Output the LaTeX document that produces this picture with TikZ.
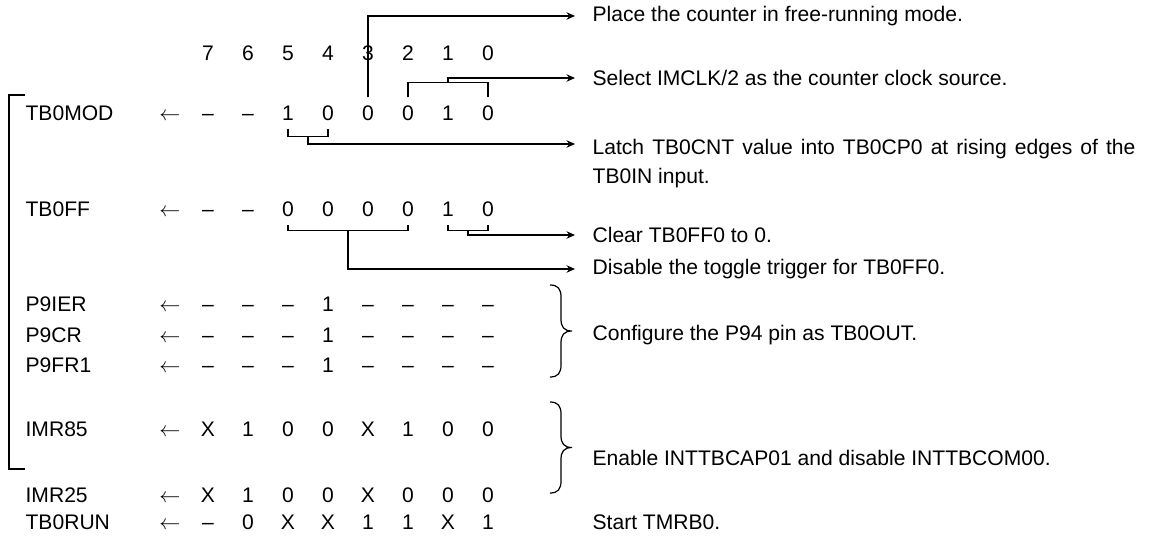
\documentclass[tikz,border=0pt]{standalone}
\usepackage{fontspec}
\setmainfont{Liberation Sans}
\usetikzlibrary{arrows.meta, calc}
\tikzset{
  every picture/.style={line width=0.7pt},
  reg/.style={anchor=west, inner sep=0pt},
  bit/.style={minimum width=0.6cm, minimum height=0.6cm, inner sep=0pt, text height=8.6pt, text depth=0pt},
  note/.style={anchor=west, inner xsep=0.34cm, inner ysep=0pt},
  link/.style={-{Stealth[length=1.7mm, width=1.5mm]}},
}

\begin{document}
\begin{tikzpicture}[x=0.02cm, y=-0.02cm, every node/.append style={font=\fontsize{12}{16}\selectfont}]
  \useasboundingbox (0,0) rectangle (1149,537);
  % bit numbers
  \foreach \bitno [count=\c from 0] in {7,...,0}
    \node[bit] (hdr-\bitno) at (208+40*\c,53) {\bitno};
  % registers and the values written to them
  \foreach \n/\lbl/\y/\vals in {tb0mod/TB0MOD/113/{–,–,1,0,0,0,1,0},
      tb0ff/TB0FF/209/{–,–,0,0,0,0,1,0},
      p9ier/P9IER/304/{–,–,–,1,–,–,–,–},
      p9cr/P9CR/335/{–,–,–,1,–,–,–,–},
      p9fr1/P9FR1/365/{–,–,–,1,–,–,–,–},
      imr85/IMR85/429/{X,1,0,0,X,1,0,0},
      imr25/IMR25/495/{X,1,0,0,X,0,0,0},
      tb0run/TB0RUN/522/{–,0,X,X,1,1,X,1}} {
    \node[reg] (\n) at (25,\y) {\lbl};
    \node[bit] (\n-arr) at (170,\y) {$\leftarrow$};
    \foreach \v [count=\c from 0] in \vals {
      \pgfmathtruncatemacro\bitno{7-\c}
      \node[bit] (\n-\bitno) at (208+40*\c,\y) {\v};
    }
  }
  \draw (25,95) -| (9,469) -- (25,469);

  % comments
  \node[note] (place) at (575,16) {Place the counter in free-running mode.};
  \node[note] (select) at (575,78) {Select IMCLK/2 as the counter clock source.};
  \node[note, anchor=north west, text width=10.86cm, align=justify] (latch) at (575,139) {Latch TB0CNT value into TB0CP0 at rising edges of the TB0IN input.};
  \node[note] (clear) at (575,235) {Clear TB0FF0 to 0.};
  \node[note] (disable) at (575,269) {Disable the toggle trigger for TB0FF0.};
  \node[note] (config) at (575,335) {Configure the P94 pin as TB0OUT.};
  \node[note] (enable) at (575,458) {Enable INTTBCAP01 and disable INTTBCOM00.};
  \node[note] (start) at (575,522) {Start TMRB0.};

  \draw[link] (tb0mod-3.north) |- (place.west);
  \draw (tb0mod-2.north) -- ++(0,-15) -| (tb0mod-0.north);
  \draw[link] ($(tb0mod-2.north)!.5!(tb0mod-0.north)+(0,-15)$) |- (select.west);
  \draw (tb0mod-5.south) -- ++(0,8) -| (tb0mod-4.south);
  \draw[link] ($(tb0mod-5.south)!.5!(tb0mod-4.south)+(0,8)$) |- ([yshift=-0.1cm]latch.north west);
  \draw (tb0ff-5.south) -- ++(0,6) -| (tb0ff-2.south);
  \draw[link] ($(tb0ff-5.south)!.5!(tb0ff-2.south)+(0,6)$) |- (disable.west);
  \draw (tb0ff-1.south) -- ++(0,6) -| (tb0ff-0.south);
  \draw[link] ($(tb0ff-1.south)!.5!(tb0ff-0.south)+(0,6)$) |- (clear.west);

  % braces
  \foreach \t/\bt in {285/377, 402/493} {
    \pgfmathsetmacro\m{(\t+\bt)/2}
    \draw (550,\t) .. controls +(8,0) and +(0,-8) .. (561,\t+12) -- (561,\m-12)
      .. controls +(0,8) and +(-8,0) .. (572,\m) .. controls +(-8,0) and +(0,-8) .. (561,\m+12)
      -- (561,\bt-12) .. controls +(0,8) and +(8,0) .. (550,\bt);
  }
\end{tikzpicture}
\end{document}
